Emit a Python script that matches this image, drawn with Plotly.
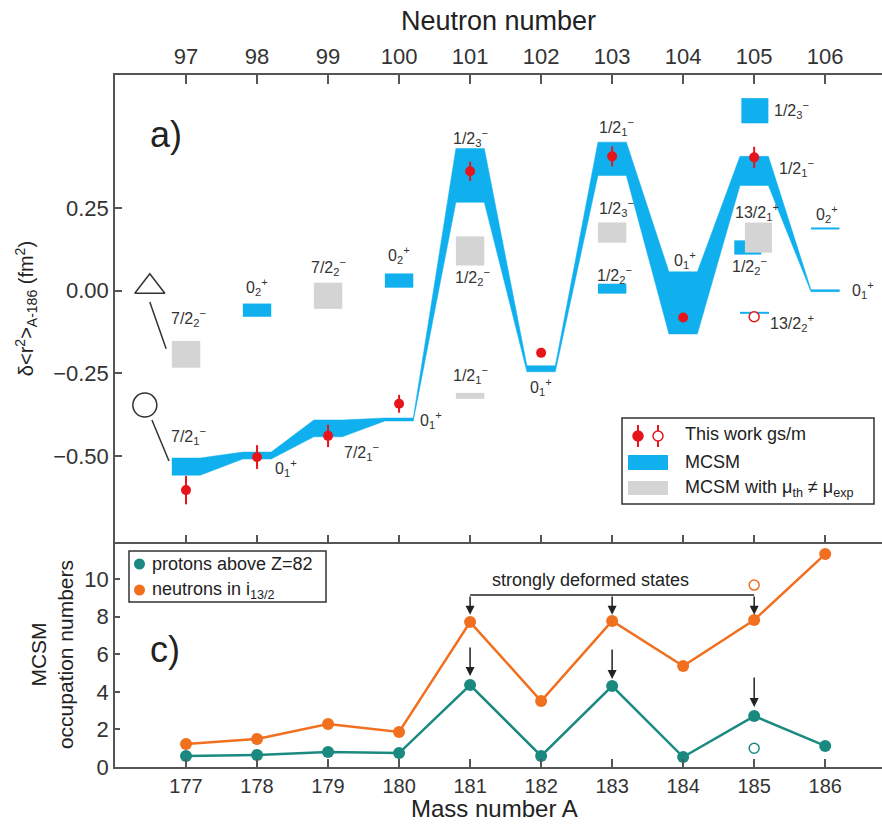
import plotly.graph_objects as go

# ---------------- data ----------------
mass = [177, 178, 179, 180, 181, 182, 183, 184, 185, 186]
neutron = [97, 98, 99, 100, 101, 102, 103, 104, 105, 106]

# MCSM ground-state band (upper / lower edge), delta<r2> in fm^2
band_hi = [-0.506, -0.488, -0.391, -0.385, 0.430, -0.227, 0.449, 0.057, 0.406, 0.003]
band_lo = [-0.558, -0.509, -0.442, -0.394, 0.267, -0.245, 0.348, -0.131, 0.318, -0.003]

# other MCSM states (blue)
blue_mass = [178, 180, 183, 185, 185, 185, 186]
blue_lo = [-0.079, 0.009, -0.009, 0.506, 0.109, -0.070, 0.185]
blue_hi = [-0.039, 0.052, 0.021, 0.582, 0.152, -0.064, 0.191]

# MCSM with mu_th != mu_exp (gray)
gray_mass = [177, 179, 181, 181, 183, 185]
gray_lo = [-0.233, -0.055, 0.076, -0.327, 0.145, 0.115]
gray_hi = [-0.152, 0.024, 0.164, -0.309, 0.206, 0.206]

# this work (ground states)
exp_mass = [177, 178, 179, 180, 181, 182, 183, 184, 185]
exp_val = [-0.603, -0.503, -0.439, -0.342, 0.361, -0.188, 0.406, -0.081, 0.403]
exp_err = [0.043, 0.036, 0.034, 0.027, 0.029, 0.010, 0.030, 0.010, 0.032]
# isomer
iso_mass = [185]
iso_val = [-0.079]
iso_err = [0.008]

# occupation numbers
protons = [0.59, 0.64, 0.80, 0.74, 4.36, 0.59, 4.31, 0.53, 2.71, 1.12]
neutrons = [1.22, 1.49, 2.29, 1.86, 7.71, 3.51, 7.77, 5.37, 7.82, 11.33]
iso_occ_mass = [185]
iso_protons = [1.0]
iso_neutrons = [9.68]

# level labels: text, mass, value, anchor
labels = [
    ("7/2<sub>2</sub><sup>−</sup>", 177.03, -0.083, "center"),
    ("0<sub>2</sub><sup>+</sup>", 178.0, 0.011, "center"),
    ("7/2<sub>2</sub><sup>−</sup>", 179.0, 0.072, "center"),
    ("0<sub>2</sub><sup>+</sup>", 180.0, 0.108, "center"),
    ("1/2<sub>3</sub><sup>−</sup>", 181.01, 0.462, "center"),
    ("1/2<sub>2</sub><sup>−</sup>", 181.03, 0.041, "center"),
    ("1/2<sub>1</sub><sup>−</sup>", 181.01, -0.255, "center"),
    ("0<sub>1</sub><sup>+</sup>", 182.0, -0.291, "center"),
    ("1/2<sub>1</sub><sup>−</sup>", 183.06, 0.495, "center"),
    ("1/2<sub>3</sub><sup>−</sup>", 183.06, 0.250, "center"),
    ("1/2<sub>2</sub><sup>−</sup>", 183.04, 0.048, "center"),
    ("0<sub>1</sub><sup>+</sup>", 184.03, 0.093, "center"),
    ("1/2<sub>3</sub><sup>−</sup>", 185.25, 0.546, "left"),
    ("1/2<sub>1</sub><sup>−</sup>", 185.32, 0.371, "left"),
    ("13/2<sub>1</sub><sup>+</sup>", 185.04, 0.238, "center"),
    ("1/2<sub>2</sub><sup>−</sup>", 184.93, 0.075, "center"),
    ("13/2<sub>2</sub><sup>+</sup>", 185.20, -0.098, "left"),
    ("0<sub>2</sub><sup>+</sup>", 186.03, 0.232, "center"),
    ("0<sub>1</sub><sup>+</sup>", 186.35, 0.002, "left"),
    ("7/2<sub>1</sub><sup>−</sup>", 177.03, -0.440, "center"),
    ("0<sub>1</sub><sup>+</sup>", 178.23, -0.536, "left"),
    ("7/2<sub>1</sub><sup>−</sup>", 179.20, -0.488, "left"),
    ("0<sub>1</sub><sup>+</sup>", 180.27, -0.391, "left"),
]

# ---------------- style ----------------
FONT = "Arial, Liberation Sans, sans-serif"
TXT = "#333333"
AX = "#555555"
BLUE = "#10b0ee"
GRAY = "#d4d4d4"
RED = "#e8141c"
TEAL = "#1a8a80"
ORANGE = "#f07020"
W = 0.2
XR = [176.0, 186.8]
Y2R = [-0.760, 0.652]
Y1R = [0, 11.97]
SPLIT = 0.3251

L, R, T, B = 115, 0, 75, 57
FW, FH = 882, 824
PW, PH = FW - L - R, FH - T - B


def P(px):
    return (px - L) / PW


def Q(py):
    return (FH - B - py) / PH


fig = go.Figure()

# main MCSM band
bx, by = [], []
for m, h in zip(mass, band_hi):
    bx += [m - W, m + W]
    by += [h, h]
for m, l in zip(reversed(mass), reversed(band_lo)):
    bx += [m + W, m - W]
    by += [l, l]
fig.add_trace(go.Scatter(x=bx, y=by, fill="toself", fillcolor=BLUE, mode="lines",
                         line=dict(width=0.5, color=BLUE), xaxis="x2", yaxis="y2",
                         hoverinfo="skip", showlegend=False))

shapes = []
blue_dx = [(-W, W)] * 3 + [(-0.18, 0.2), (-0.28, 0.1), (-W, 0.21), (-W, W)]
for m, lo, hi, (d0, d1) in zip(blue_mass, blue_lo, blue_hi, blue_dx):
    shapes.append(dict(type="rect", xref="x2", yref="y2", x0=m + d0, x1=m + d1,
                       y0=lo, y1=hi, fillcolor=BLUE, line=dict(width=0), layer="below"))
gray_dx = [(-W, W)] * 5 + [(-0.13, 0.25)]
for m, lo, hi, (d0, d1) in zip(gray_mass, gray_lo, gray_hi, gray_dx):
    shapes.append(dict(type="rect", xref="x2", yref="y2", x0=m + d0, x1=m + d1,
                       y0=lo, y1=hi, fillcolor=GRAY, line=dict(width=0), layer="below"))

# experimental points
fig.add_trace(go.Scatter(x=exp_mass, y=exp_val, mode="markers", xaxis="x2", yaxis="y2",
                         marker=dict(color=RED, size=10),
                         error_y=dict(type="data", array=exp_err, color=RED, thickness=2, width=0),
                         showlegend=False, hoverinfo="skip"))
fig.add_trace(go.Scatter(x=iso_mass, y=iso_val, mode="markers", xaxis="x2", yaxis="y2",
                         marker=dict(color="white", size=10, line=dict(color=RED, width=1.5)),
                         error_y=dict(type="data", array=iso_err, color=RED, thickness=1.5, width=0),
                         showlegend=False, hoverinfo="skip"))

# schematic symbols on the left
fig.add_trace(go.Scatter(x=[176.49], y=[0.012], mode="markers", xaxis="x2", yaxis="y2",
                         marker=dict(symbol="triangle-up-open", size=26, color="#333", line=dict(width=1.5)),
                         showlegend=False, hoverinfo="skip"))
fig.add_trace(go.Scatter(x=[176.42], y=[-0.346], mode="markers", xaxis="x2", yaxis="y2",
                         marker=dict(symbol="circle-open", size=24, color="#333", line=dict(width=1.5)),
                         showlegend=False, hoverinfo="skip"))
for (xa, ya, xb, yb) in [(176.49, -0.034, 176.72, -0.176), (176.52, -0.391, 176.76, -0.515)]:
    shapes.append(dict(type="line", xref="x2", yref="y2", x0=xa, y0=ya, x1=xb, y1=yb,
                       line=dict(color="#333", width=1.5)))

# dummy trace for top neutron axis
fig.add_trace(go.Scatter(x=mass, y=band_hi, mode="markers", xaxis="x3", yaxis="y2",
                         marker=dict(opacity=0), showlegend=False, hoverinfo="skip"))

# occupation numbers
fig.add_trace(go.Scatter(x=mass, y=neutrons, mode="lines+markers", line=dict(color=ORANGE, width=2.5),
                         marker=dict(color=ORANGE, size=12), showlegend=False, hoverinfo="skip"))
fig.add_trace(go.Scatter(x=mass, y=protons, mode="lines+markers", line=dict(color=TEAL, width=2.5),
                         marker=dict(color=TEAL, size=12), showlegend=False, hoverinfo="skip"))
fig.add_trace(go.Scatter(x=iso_occ_mass, y=iso_neutrons, mode="markers",
                         marker=dict(color="white", size=10, line=dict(color=ORANGE, width=1.5)),
                         showlegend=False, hoverinfo="skip"))
fig.add_trace(go.Scatter(x=iso_occ_mass, y=iso_protons, mode="markers",
                         marker=dict(color="white", size=10, line=dict(color=TEAL, width=1.5)),
                         showlegend=False, hoverinfo="skip"))

annotations = []
for text, xm, yv, anc in labels:
    annotations.append(dict(text=text, x=xm, y=yv, xref="x2", yref="y2", showarrow=False,
                            xanchor=anc, yanchor="middle", font=dict(size=16, color=TXT, family=FONT)))

# panel letters
annotations.append(dict(text="a)", x=P(148), y=Q(112), xref="paper", yref="paper", showarrow=False,
                        font=dict(size=36, color="#222", family=FONT)))
annotations.append(dict(text="c)", x=P(148), y=Q(672), xref="paper", yref="paper", showarrow=False,
                        font=dict(size=36, color="#222", family=FONT)))

# bottom axis title
annotations.append(dict(text="Mass number A", x=P(494), y=Q(823), xref="paper", yref="paper",
                        showarrow=False, yanchor="bottom", xanchor="center", borderpad=0,
                        font=dict(size=24, color="#222", family=FONT)))

# strongly deformed states bracket
BR_Y, TIP_Y = 9.15, 8.1
annotations.append(dict(text="strongly deformed states", x=182.70, y=9.93, xref="x", yref="y",
                        showarrow=False, font=dict(size=18, color="#222", family=FONT)))
shapes.append(dict(type="line", xref="x", yref="y", x0=181, x1=185, y0=BR_Y, y1=BR_Y,
                   line=dict(color="#222", width=1.5)))
for m in [181, 183, 185]:
    annotations.append(dict(text="", x=m, y=TIP_Y, ax=m, ay=BR_Y, xref="x", yref="y", axref="x", ayref="y",
                            showarrow=True, arrowhead=2, arrowsize=1.2, arrowwidth=1.5, arrowcolor="#222",
                            standoff=0))
for m, a0, a1 in [(181, 6.44, 4.84), (183, 6.33, 4.68), (185, 4.84, 3.19)]:
    annotations.append(dict(text="", x=m, y=a1, ax=m, ay=a0, xref="x", yref="y", axref="x", ayref="y",
                            showarrow=True, arrowhead=2, arrowsize=1.2, arrowwidth=1.5, arrowcolor="#222",
                            standoff=0))

# ---- legend (top) ----
shapes.append(dict(type="rect", xref="paper", yref="paper", x0=P(622), x1=P(874), y0=Q(504), y1=Q(418),
                   line=dict(color="#333", width=1.5), fillcolor="white", layer="above"))
for cx, fill in [(638, RED), (658, "white")]:
    shapes.append(dict(type="line", xref="paper", yref="paper", x0=P(cx), x1=P(cx), y0=Q(447), y1=Q(425),
                       line=dict(color=RED, width=2), layer="above"))
    shapes.append(dict(type="circle", xref="paper", yref="paper", x0=P(cx - 5), x1=P(cx + 5),
                       y0=Q(441), y1=Q(431), fillcolor=fill, line=dict(color=RED, width=1.5), layer="above"))
shapes.append(dict(type="rect", xref="paper", yref="paper", x0=P(628), x1=P(668), y0=Q(470), y1=Q(455),
                   fillcolor=BLUE, line=dict(width=0), layer="above"))
shapes.append(dict(type="rect", xref="paper", yref="paper", x0=P(628), x1=P(668), y0=Q(495), y1=Q(481),
                   fillcolor=GRAY, line=dict(width=0), layer="above"))
for text, py in [("This work gs/m", 434), ("MCSM", 462),
                 ("MCSM with μ<sub>th</sub> ≠ μ<sub>exp</sub>", 488)]:
    annotations.append(dict(text=text, x=P(683), y=Q(py), xref="paper", yref="paper", showarrow=False,
                            xanchor="left", yanchor="middle", font=dict(size=18, color="#222", family=FONT)))

# ---- legend (bottom) ----
shapes.append(dict(type="rect", xref="paper", yref="paper", x0=P(129), x1=P(326), y0=Q(602), y1=Q(551),
                   line=dict(color="#333", width=1.5), fillcolor="white", layer="above"))
for col, py, text in [(TEAL, 564, "protons above Z=82"), (ORANGE, 590, "neutrons in i<sub>13/2</sub>")]:
    shapes.append(dict(type="circle", xref="paper", yref="paper", x0=P(134), x1=P(145),
                       y0=Q(py + 5.5), y1=Q(py - 5.5), fillcolor=col, line=dict(width=0), layer="above"))
    annotations.append(dict(text=text, x=P(150), y=Q(py), xref="paper", yref="paper", showarrow=False,
                            xanchor="left", yanchor="middle", font=dict(size=18, color="#222", family=FONT)))

axis_common = dict(showline=True, linecolor=AX, linewidth=1.5, ticks="inside", tickcolor=AX, tickwidth=1.5,
                   showgrid=False, zeroline=False, automargin=False)
tf22 = dict(size=22, color=TXT, family=FONT)

fig.update_layout(
    width=FW, height=FH, margin=dict(l=L, r=R, t=T, b=B),
    paper_bgcolor="white", plot_bgcolor="white",
    font=dict(family=FONT, color=TXT),
    xaxis=dict(domain=[0, 1], anchor="y", range=XR, tickvals=mass, ticklen=8,
               tickfont=dict(size=20, color=TXT, family=FONT), **axis_common),
    yaxis=dict(domain=[0, SPLIT], anchor="x", range=Y1R, tickvals=[0, 2, 4, 6, 8, 10], ticklen=5,
               tickfont=tf22,
               title=dict(text="MCSM<br>occupation numbers", font=dict(size=21, color="#222", family=FONT),
                          standoff=5),
               **axis_common),
    xaxis2=dict(domain=[0, 1], anchor="y2", range=XR, tickvals=mass, ticklen=7, showticklabels=False,
                **axis_common),
    yaxis2=dict(domain=[SPLIT, 1], anchor="x2", range=Y2R, tickvals=[-0.5, -0.25, 0, 0.25],
                tickformat=".2f", ticklen=7, tickfont=tf22,
                title=dict(text="δ&lt;r<sup>2</sup>&gt;<sub>A-186</sub> (fm<sup>2</sup>)",
                           font=dict(size=20, color="#222", family=FONT), standoff=14),
                **axis_common),
    xaxis3=dict(overlaying="x2", anchor="y2", side="top", range=XR, tickvals=mass,
                ticktext=[str(n) for n in neutron], ticklen=9, tickfont=tf22,
                title=dict(text="Neutron number", font=dict(size=27, color="#222", family=FONT), standoff=6),
                **axis_common),
    shapes=shapes,
    annotations=annotations,
    showlegend=False,
)

fig.write_html("out.html")
